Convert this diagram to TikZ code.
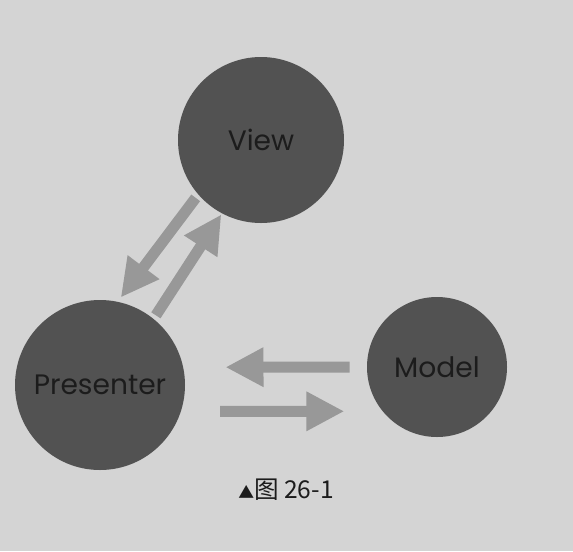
\documentclass[tikz,border=0pt]{standalone}
\usepackage{fontspec}
\setsansfont{Poppins}
\newfontfamily\cjkfont{Noto Sans CJK SC}
\usetikzlibrary{positioning, calc, arrows.meta}
\definecolor{pagegray}{RGB}{212,212,212}
\definecolor{balldark}{RGB}{82,82,82}
\definecolor{arrowgray}{RGB}{152,152,152}
\definecolor{inkdark}{RGB}{28,28,28}

\begin{document}
\begin{tikzpicture}[
		ball/.style={circle, fill=balldark, text=inkdark, font=\sffamily\fontsize{16}{18}\selectfont, inner sep=0pt},
		fat/.style={draw=arrowgray, line width=0.22cm, -{Triangle[width=0.74cm, length=0.76cm]}, color=arrowgray}
	]
			\fill[pagegray] (0,0) rectangle (11.46,-11.02);
			\node (view) [ball, minimum size=3.32cm] at (5.22,-2.80) {View};
			\node (presenter) [ball, minimum size=3.40cm] at (2.00,-7.70) {Presenter};
			\node (model) [ball, minimum size=2.80cm] at (8.74,-7.34) {Model};
			\draw [fat, shorten <=0.08cm, shorten >=0.10cm] (view.221) -- (presenter.78);
			\draw [fat, shorten <=0.08cm, shorten >=0.02cm] (presenter.51) -- (view.242);
			\draw [fat, shorten <=0.34cm, shorten >=0.84cm] (model.180) -- (presenter.12);
			\draw [fat, shorten <=0.78cm, shorten >=0.76cm] (presenter.-18) -- (model.219);
			\node (caption) [text=inkdark, font=\cjkfont\fontsize{14}{16}\selectfont] at (5.72,-9.80) {{\fontsize{9}{10}\selectfont ▲}图 26-1};
		\end{tikzpicture}
\end{document}
